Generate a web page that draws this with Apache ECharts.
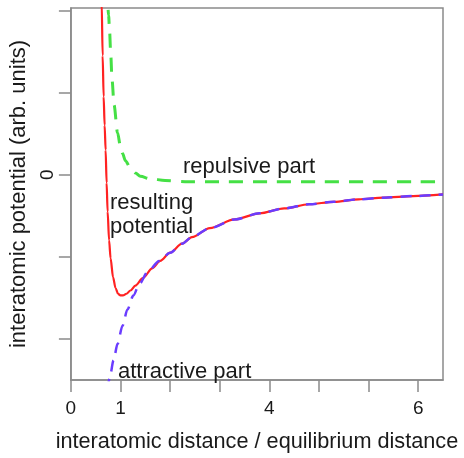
<!DOCTYPE html>
<html>
<head>
<meta charset="utf-8">
<script src="https://cdn.jsdelivr.net/npm/echarts@6/dist/echarts.min.js"></script>
<style>
html,body{margin:0;padding:0;background:#fff;}
#chart{width:464px;height:458px;}
</style>
</head>
<body>
<div id="chart"></div>
<script>
// ---- data ----
const xTickValues = [0, 1, 2, 3, 4, 5, 6, 7];
const xTickLabels = ['0', '1', '', '', '4', '', '', '6'];
const yTickValues = [-2, -1, 0, 1, 2];
const yTickLabels = ['', '', '0', '', ''];

const resultingX = [0.60, 0.62, 0.64, 0.66, 0.68, 0.70, 0.72, 0.74, 0.77, 0.80, 0.85, 0.90, 0.95, 1.00, 1.05, 1.12, 1.20, 1.30, 1.45, 1.64, 1.80, 2.00, 2.24, 2.44, 2.80, 3.30, 3.80, 4.30, 4.80, 5.30, 5.80, 6.30, 6.90, 7.50];
const resultingY = [2.60, 2.10, 1.45, 0.95, 0.60, 0.30, -0.10, -0.45, -0.80, -1.02, -1.25, -1.38, -1.45, -1.47, -1.47, -1.45, -1.41, -1.35, -1.26, -1.14, -1.05, -0.95, -0.84, -0.76, -0.65, -0.545, -0.47, -0.41, -0.36, -0.33, -0.30, -0.28, -0.26, -0.24];

const repulsiveX = [0.73, 0.76, 0.78, 0.80, 0.83, 0.87, 0.94, 1.00, 1.04, 1.10, 1.20, 1.30, 1.40, 1.60, 1.90, 2.30, 3.00, 4.00, 5.00, 6.00, 7.00, 7.50];
const repulsiveY = [2.30, 1.94, 1.75, 1.50, 1.15, 0.85, 0.51, 0.34, 0.26, 0.17, 0.08, 0.02, -0.02, -0.05, -0.07, -0.085, -0.085, -0.085, -0.085, -0.085, -0.085, -0.085];

const attractiveX = [0.74, 0.78, 0.86, 0.94, 1.04, 1.14, 1.26, 1.38, 1.55, 1.78, 2.00, 2.24, 2.44, 2.80, 3.30, 3.80, 4.30, 4.80, 5.30, 5.80, 6.30, 6.90, 7.50];
const attractiveY = [-2.62, -2.48, -2.26, -2.06, -1.84, -1.64, -1.47, -1.33, -1.18, -1.05, -0.95, -0.84, -0.76, -0.65, -0.545, -0.47, -0.41, -0.36, -0.33, -0.30, -0.28, -0.26, -0.24];

const annotations = ['repulsive part', 'resulting', 'potential', 'attractive part'];
const xAxisTitle = 'interatomic distance / equilibrium distance';
const yAxisTitle = 'interatomic potential (arb. units)';

// ---- chart ----
const pair = (xs, ys) => xs.map((x, i) => [x, ys[i]]);
const FONT = 'Liberation Sans, Arial, Helvetica, sans-serif';
const AX = '#8a8a8a';
const TXT = '#1a1a1a';

const chart = echarts.init(document.getElementById('chart'), null, {renderer: 'canvas'});
chart.setOption({
  animation: false,
  backgroundColor: '#fff',
  grid: {left: 67, right: 21, top: 8, bottom: 75, show: true, borderColor: AX, borderWidth: 1.5, backgroundColor: 'transparent'},
  xAxis: {
    type: 'value', min: 0, max: 7.5,
    name: xAxisTitle, nameLocation: 'middle', nameGap: 51,
    nameTextStyle: {fontFamily: FONT, fontSize: 21.7, color: TXT},
    axisLine: {show: true, onZero: false, lineStyle: {color: AX, width: 1.5}},
    axisTick: {show: true, length: 12, inside: false, lineStyle: {color: AX, width: 1.5}, customValues: xTickValues},
    axisLabel: {
      fontFamily: FONT, fontSize: 19, color: TXT, margin: 19,
      customValues: xTickValues.filter((v, i) => xTickLabels[i] !== ''),
      formatter: v => { const i = xTickValues.indexOf(v); return i >= 0 ? xTickLabels[i] : ''; }
    },
    splitLine: {show: false}
  },
  yAxis: {
    type: 'value', min: -2.5, max: 2.03,
    name: yAxisTitle, nameLocation: 'middle', nameGap: 33, nameRotate: 90,
    nameTextStyle: {fontFamily: FONT, fontSize: 22, color: TXT},
    axisLine: {show: true, onZero: false, lineStyle: {color: AX, width: 1.5}},
    axisTick: {show: true, length: 12, inside: false, lineStyle: {color: AX, width: 1.5}, customValues: yTickValues},
    axisLabel: {
      fontFamily: FONT, fontSize: 19, color: TXT, margin: 14, rotate: 90,
      customValues: yTickValues.filter((v, i) => yTickLabels[i] !== ''),
      formatter: v => { const i = yTickValues.indexOf(v); return i >= 0 ? yTickLabels[i] : ''; }
    },
    splitLine: {show: false}
  },
  series: [
    {
      name: 'repulsive part', type: 'line', data: pair(repulsiveX, repulsiveY),
      showSymbol: false, smooth: 0.3, smoothMonotone: 'x', clip: true, z: 2,
      lineStyle: {color: '#45e045', width: 3, type: [14, 10]}
    },
    {
      name: 'attractive part', type: 'line', data: pair(attractiveX, attractiveY),
      showSymbol: false, smooth: 0.3, smoothMonotone: 'x', clip: true, z: 4,
      lineStyle: {color: '#6a3cff', width: 2.5, type: [11, 8]}
    },
    {
      name: 'resulting potential', type: 'line', data: pair(resultingX, resultingY),
      showSymbol: false, smooth: 0.3, smoothMonotone: 'x', clip: true, z: 3,
      lineStyle: {color: '#ff2222', width: 2.2}
    }
  ],
  graphic: [
    {type: 'text', x: 183, y: 167, z: 10, style: {text: annotations[0], font: '22px ' + FONT, fill: TXT, verticalAlign: 'middle'}},
    {type: 'text', x: 110, y: 203, z: 10, style: {text: annotations[1], font: '22px ' + FONT, fill: TXT, verticalAlign: 'middle'}},
    {type: 'text', x: 110, y: 227, z: 10, style: {text: annotations[2], font: '22px ' + FONT, fill: TXT, verticalAlign: 'middle'}},
    {type: 'text', x: 118, y: 372, z: 10, style: {text: annotations[3], font: '22px ' + FONT, fill: TXT, verticalAlign: 'middle'}}
  ]
});
</script>
</body>
</html>
